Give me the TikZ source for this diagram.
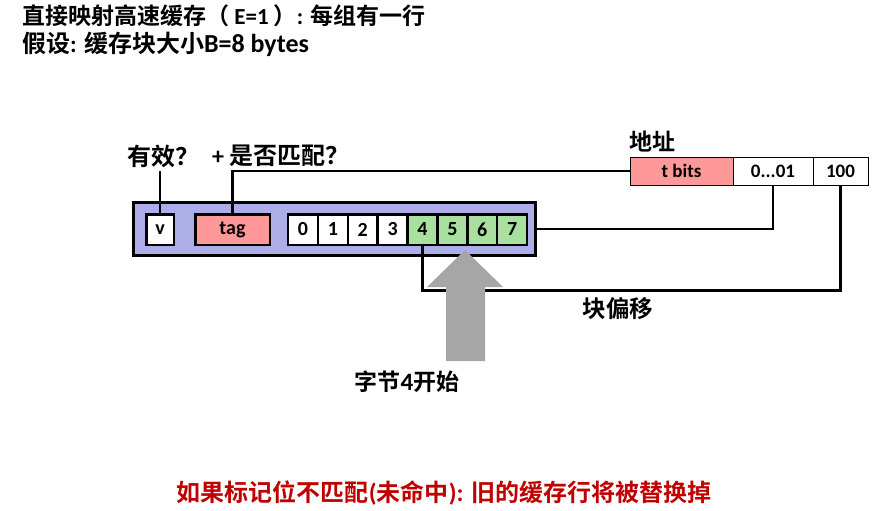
\documentclass[tikz,border=0pt]{standalone}
\usepackage{fontspec}
\setmainfont{Carlito}
\newfontfamily\cjk{Noto Sans CJK SC Bold}
\newfontfamily\latf{Carlito}
\newcommand\LatT[1]{{\latf\bfseries #1}}
\newcommand\LatS[2]{{\latf\bfseries\fontsize{#1}{#1}\selectfont #2}}
\definecolor{purp}{HTML}{ADADE8}
\definecolor{pinkc}{HTML}{FF9999}
\definecolor{greenc}{HTML}{A9E0A0}
\definecolor{grayc}{HTML}{A6A6A6}
\definecolor{redc}{HTML}{C00000}
\begin{document}
\begin{tikzpicture}[x=1pt,y=-1pt,
  cjkb/.style={font=\cjk\fontsize{#1}{#1}\selectfont},
  lbl/.style={anchor=west, inner sep=0pt},
  cell/.style={draw, line width=2.5pt, minimum height=30.5pt, inner sep=0pt, font=\latf\bfseries\fontsize{20}{20}\selectfont},
  addr/.style={draw, line width=0.8pt, minimum height=28pt, inner sep=0pt, font=\latf\bfseries\fontsize{19}{19}\selectfont},
  wire/.style={line width=2.5pt},
]
\useasboundingbox (0,0) rectangle (884,511);
\fill[white] (0,0) rectangle (884,511);

% titles
\node[lbl, cjkb=23] (t1) at (22,16) {直接映射高速缓存（\LatT{ E=1 }）\LatT{: }每组有一行};
\node[lbl, cjkb=24] (t2) at (22,44) {假设\LatT{: }缓存块大小\LatS{26}{B=8 bytes}};

% cache line
\node[draw, line width=3pt, fill=purp, minimum width=402pt, minimum height=53pt, inner sep=0pt] (row) at (334.5,229) {};
\node[cell, fill=white, minimum width=27.5pt] (v) at (160,229.5) {v};
\node[cell, fill=pinkc, minimum width=74.5pt] (tag) at (232.5,229.5) {tag};
\foreach \i in {0,...,7}{
  \pgfmathsetmacro{\cx}{303+29.875*\i}
  \ifnum\i<4
    \node[cell, fill=white, minimum width=29.875pt] (b\i) at (\cx,229.5) {\i};
  \else
    \node[cell, fill=greenc, minimum width=29.875pt] (b\i) at (\cx,229.5) {\i};
  \fi
}

% address
\node[lbl, cjkb=23] (addrl) at (629,142) {地址};
\node[addr, fill=pinkc, minimum width=103pt] (tb) at (681.5,171) {t bits};
\node[addr, fill=white, minimum width=80pt] (mid) at (773,171) {0...01};
\node[addr, fill=white, minimum width=55pt] (off) at (840.5,171) {100};

% labels
\node[lbl, cjkb=24] (lv) at (127,156) {有效？};
\node[lbl, cjkb=24] (lm) at (212,156) {\LatS{24}{+ }是否匹配？};
\node[cjkb=23.5, inner sep=0pt] (lo) at (618,309) {块偏移};
\node[cjkb=23, inner sep=0pt] (ls) at (407,382) {字节\LatS{25}{4}开始};

% wires
\draw[wire] (v.north) -- (v.north |- tb.west);
\draw[wire] (tag.north) |- (tb.west);
\draw[wire] (mid.south) |- (row.east);
\draw[wire] (off.south) -- ++(0,105) -| (b4.south);

% gray arrow
\fill[grayc] (446,361) -- (446,287) -- (427,287) -- (465,250) -- (503,287) -- (485,287) -- (485,361) -- cycle;

% bottom note
\node[cjkb=24, text=redc, inner sep=0pt] (note) at (444,493) {如果标记位不匹配\LatS{25}{(}未命中\LatS{25}{): }旧的缓存行将被替换掉};
\end{tikzpicture}
\end{document}
